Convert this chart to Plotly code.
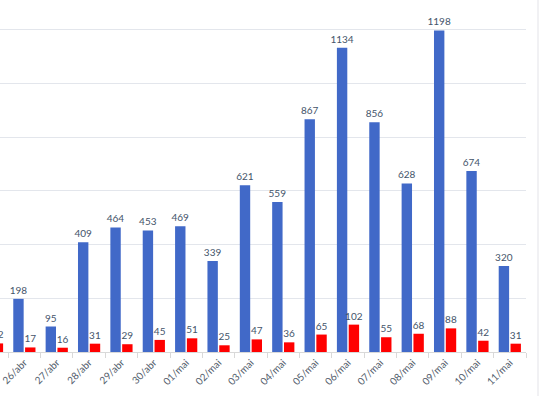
import plotly.graph_objects as go

dates = ["25/abr", "26/abr", "27/abr", "28/abr", "29/abr", "30/abr", "01/mai", "02/mai",
         "03/mai", "04/mai", "05/mai", "06/mai", "07/mai", "08/mai", "09/mai", "10/mai", "11/mai"]
blue_vals = [None, 198, 95, 409, 464, 453, 469, 339, 621, 559, 867, 1134, 856, 628, 1198, 674, 320]
red_vals = [32, 17, 16, 31, 29, 45, 51, 25, 47, 36, 65, 102, 55, 68, 88, 42, 31]

W, H = 541, 396
plot_right = 526
plot_bottom = 352
y_max = 1200 + 30 / (322.0 / 1198)
label_color = "#44546A"

fig = go.Figure()
fig.add_trace(go.Bar(
    x=dates, y=blue_vals, marker=dict(color="#4169C8", line=dict(width=0)),
    text=[("" if v is None else str(v)) for v in blue_vals], textposition="outside",
    constraintext="none",
    textfont=dict(family="Lato", size=10, color=label_color), cliponaxis=True,
    showlegend=False,
))
fig.add_trace(go.Bar(
    x=dates, y=red_vals, marker=dict(color="#FF0000", line=dict(width=0)),
    text=[str(v) for v in red_vals], textposition="outside",
    constraintext="none",
    textfont=dict(family="Lato", size=10, color=label_color), cliponaxis=True,
    showlegend=False,
))

fig.update_layout(
    width=W, height=H,
    margin=dict(l=0, r=W - plot_right, t=0, b=H - plot_bottom, pad=0, autoexpand=False),
    barmode="group", bargap=0.27, bargroupgap=0.12,
    plot_bgcolor="white", paper_bgcolor="white",
    font=dict(family="Lato", size=10, color="#595959"),
    xaxis=dict(
        type="category", range=[0.247, 16.5], tickangle=-45, automargin=False,
        tickson="boundaries", ticks="outside", ticklen=5, tickcolor="#D9D9D9",
        showline=True, linecolor="#D9D9D9", linewidth=1, showgrid=False,
        tickfont=dict(family="Lato", size=10, color="#525C6B"),
    ),
    yaxis=dict(
        range=[0, y_max], dtick=200, showticklabels=False, showgrid=True, automargin=False,
        gridcolor="#E3E6EC", gridwidth=1, zeroline=False, showline=False,
    ),
    shapes=[dict(type="line", xref="paper", yref="paper",
                 x0=538 / plot_right, x1=538 / plot_right, y0=-(H - plot_bottom) / plot_bottom, y1=1,
                 line=dict(color="#E3E3E8", width=1))],
)

fig.write_html("out.html", config={"displayModeBar": False},
               post_script="document.body.style.margin='0';document.body.style.overflow='hidden';")
